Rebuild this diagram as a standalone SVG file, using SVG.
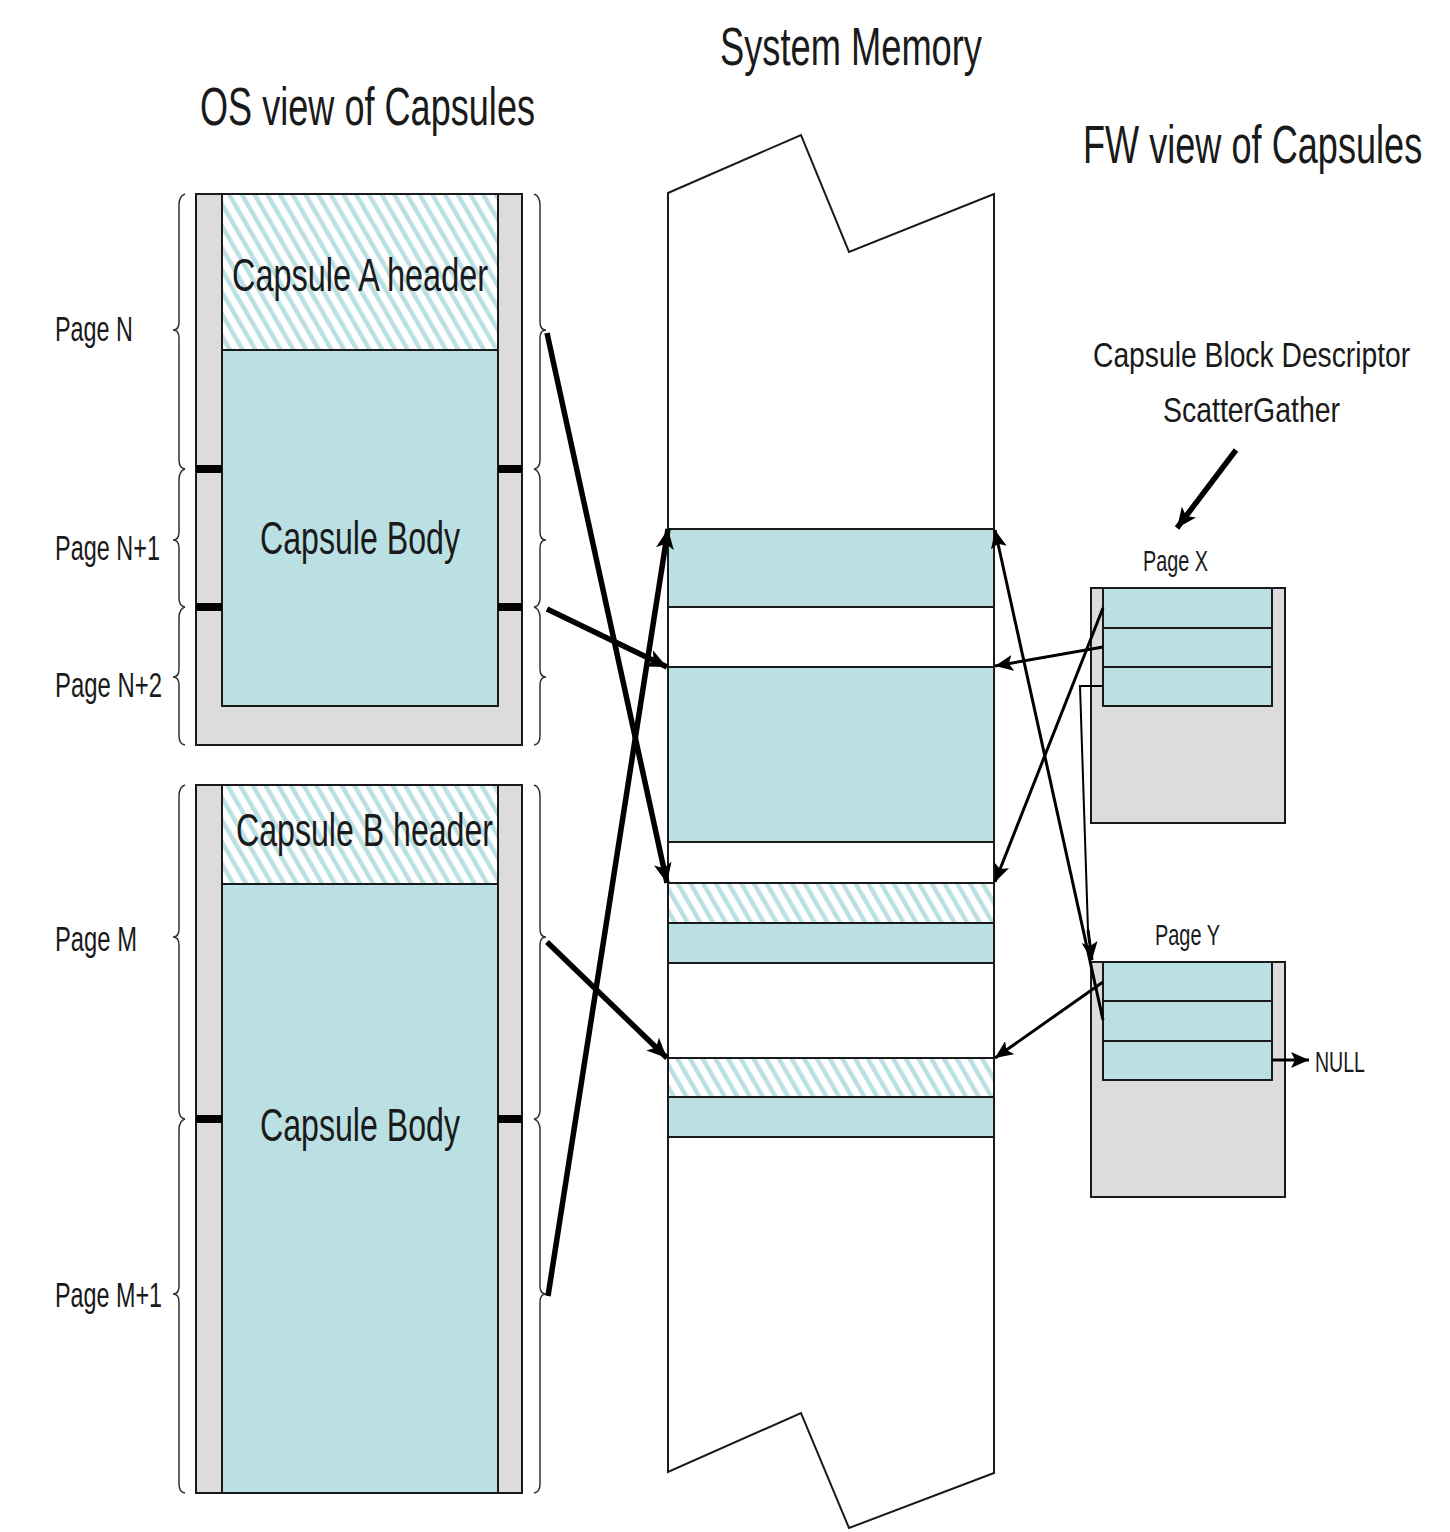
<svg xmlns="http://www.w3.org/2000/svg" width="1450" height="1532" viewBox="0 0 1450 1532">
<style>
text{font-family:"Liberation Sans Narrow","Liberation Sans",Arial,sans-serif;fill:#1a1a1a}
.title{font-size:54px}
.big{font-size:46px}
.lbl{font-size:35px}
.sm{font-size:30px}
.gray{fill:#dcdcdc;stroke:#1a1a1a;stroke-width:2}
.teal{fill:#bbe0e3;stroke:#1a1a1a;stroke-width:2}
.hatch{fill:url(#hatch);stroke:#1a1a1a;stroke-width:2}
.tick{fill:#000}
.brace{fill:none;stroke:#333;stroke-width:1.5}
.mem{fill:#fff;stroke:#1a1a1a;stroke-width:2}
.thick{fill:none;stroke:#000;stroke-width:5.5;marker-end:url(#ah)}
.thin{fill:none;stroke:#000;stroke-width:3;marker-end:url(#ah2)}
.plain{fill:none;stroke:#000;stroke-width:2}
</style>
<defs>
<pattern id="hatch" patternUnits="userSpaceOnUse" width="11" height="11" patternTransform="rotate(-30)">
<rect width="11" height="11" fill="#fff"/>
<rect x="0" y="0" width="4.5" height="11" fill="#bbe0e3"/>
</pattern>
<marker id="ah" markerUnits="userSpaceOnUse" markerWidth="22" markerHeight="18" refX="20" refY="9" orient="auto">
<path d="M0,0 L20,9 L0,18 L5,9 Z" fill="#000"/>
</marker>
<marker id="ah2" markerUnits="userSpaceOnUse" markerWidth="20" markerHeight="16" refX="18" refY="8" orient="auto">
<path d="M0,0 L18,8 L0,16 L4,8 Z" fill="#000"/>
</marker>
</defs>

<g id="titles">
<text class="title" x="200" y="125" textLength="335" lengthAdjust="spacingAndGlyphs">OS view of Capsules</text>
<text class="title" x="720" y="65" textLength="262" lengthAdjust="spacingAndGlyphs">System Memory</text>
<text class="title" transform="translate(1083,163) scale(0.66,1)" x="0" y="0" textLength="514" lengthAdjust="spacingAndGlyphs">FW view of Capsules</text>
</g>

<g id="capsuleA">
<rect class="gray" x="196" y="194" width="326" height="551"/>
<rect class="hatch" x="222" y="194" width="276" height="156"/>
<rect class="teal" x="222" y="350" width="276" height="356"/>
<rect class="tick" x="196" y="465" width="26" height="8"/>
<rect class="tick" x="498" y="465" width="24" height="8"/>
<rect class="tick" x="196" y="603" width="26" height="8"/>
<rect class="tick" x="498" y="603" width="24" height="8"/>
<text class="big" x="232" y="291" textLength="256" lengthAdjust="spacingAndGlyphs">Capsule A header</text>
<text class="big" x="260" y="554" textLength="200" lengthAdjust="spacingAndGlyphs">Capsule Body</text>
</g>

<g id="capsuleB">
<rect class="gray" x="196" y="785" width="326" height="708"/>
<rect class="hatch" x="222" y="785" width="276" height="99"/>
<rect class="teal" x="222" y="884" width="276" height="609"/>
<rect class="tick" x="196" y="1115" width="26" height="8"/>
<rect class="tick" x="498" y="1115" width="24" height="8"/>
<text class="big" x="236" y="846" textLength="257" lengthAdjust="spacingAndGlyphs">Capsule B header</text>
<text class="big" x="260" y="1141" textLength="200" lengthAdjust="spacingAndGlyphs">Capsule Body</text>
</g>

<g id="braces">
<path class="brace" d="M185,194 Q179,196 179,205 L179,322 Q179,330 173,330 Q179,330 179,338 L179,460 Q179,468 185,469"/>
<path class="brace" d="M185,469 Q179,471 179,480 L179,532 Q179,540 173,540 Q179,540 179,548 L179,598 Q179,606 185,607"/>
<path class="brace" d="M185,607 Q179,609 179,618 L179,669 Q179,677 173,677 Q179,677 179,685 L179,736 Q179,744 185,745"/>
<path class="brace" d="M185,785 Q179,787 179,796 L179,929 Q179,937 173,937 Q179,937 179,945 L179,1110 Q179,1118 185,1119"/>
<path class="brace" d="M185,1119 Q179,1121 179,1130 L179,1286 Q179,1294 173,1294 Q179,1294 179,1302 L179,1484 Q179,1492 185,1493"/>
<path class="brace" d="M534,194 Q540,196 540,205 L540,322 Q540,330 546,330 Q540,330 540,338 L540,460 Q540,468 534,469"/>
<path class="brace" d="M534,469 Q540,471 540,480 L540,532 Q540,540 546,540 Q540,540 540,548 L540,598 Q540,606 534,607"/>
<path class="brace" d="M534,607 Q540,609 540,618 L540,669 Q540,677 546,677 Q540,677 540,685 L540,736 Q540,744 534,745"/>
<path class="brace" d="M534,785 Q540,787 540,796 L540,929 Q540,937 546,937 Q540,937 540,945 L540,1110 Q540,1118 534,1119"/>
<path class="brace" d="M534,1119 Q540,1121 540,1130 L540,1286 Q540,1294 546,1294 Q540,1294 540,1302 L540,1484 Q540,1492 534,1493"/>
</g>

<g id="pageLabels">
<text class="lbl" x="55" y="341" textLength="78" lengthAdjust="spacingAndGlyphs">Page N</text>
<text class="lbl" x="55" y="560" textLength="105" lengthAdjust="spacingAndGlyphs">Page N+1</text>
<text class="lbl" x="55" y="697" textLength="107" lengthAdjust="spacingAndGlyphs">Page N+2</text>
<text class="lbl" x="55" y="951" textLength="82" lengthAdjust="spacingAndGlyphs">Page M</text>
<text class="lbl" x="55" y="1307" textLength="107" lengthAdjust="spacingAndGlyphs">Page M+1</text>
</g>

<g id="systemMemory">
<path class="mem" d="M668,193 L801,135 L849,252 L994,194 L994,1473 L849,1528 L801,1413 L668,1472 Z"/>
<rect class="teal" x="668" y="529" width="326" height="78"/>
<rect class="teal" x="668" y="667" width="326" height="175"/>
<rect class="hatch" x="668" y="883" width="326" height="40"/>
<rect class="teal" x="668" y="923" width="326" height="40"/>
<rect class="hatch" x="668" y="1058" width="326" height="39"/>
<rect class="teal" x="668" y="1097" width="326" height="40"/>
</g>

<g id="descriptorLabel">
<text class="lbl" transform="translate(1093,367) scale(0.75,1)" x="0" y="0" textLength="423" lengthAdjust="spacingAndGlyphs">Capsule Block Descriptor</text>
<text class="lbl" x="1163" y="422" textLength="177" lengthAdjust="spacingAndGlyphs">ScatterGather</text>
</g>

<g id="pageX">
<rect class="gray" x="1091" y="588" width="194" height="235"/>
<rect class="teal" x="1103" y="588" width="169" height="40"/>
<rect class="teal" x="1103" y="628" width="169" height="39"/>
<rect class="teal" x="1103" y="667" width="169" height="39"/>
<text class="sm" x="1143" y="571" textLength="65" lengthAdjust="spacingAndGlyphs">Page X</text>
</g>

<g id="pageY">
<rect class="gray" x="1091" y="962" width="194" height="235"/>
<rect class="teal" x="1103" y="962" width="169" height="39"/>
<rect class="teal" x="1103" y="1001" width="169" height="40"/>
<rect class="teal" x="1103" y="1041" width="169" height="39"/>
<text class="sm" x="1155" y="945" textLength="65" lengthAdjust="spacingAndGlyphs">Page Y</text>
<text class="sm" x="1315" y="1072" textLength="50" lengthAdjust="spacingAndGlyphs">NULL</text>
</g>

<g id="connectors">
<line class="thick" x1="547" y1="333" x2="667" y2="883"/>
<line class="thick" x1="547" y1="609" x2="667" y2="667"/>
<line class="thick" x1="547" y1="942" x2="667" y2="1058"/>
<line class="thick" x1="548" y1="1296" x2="668" y2="529"/>
<line class="thin" x1="1103" y1="608" x2="995" y2="882"/>
<line class="thin" x1="1103" y1="647" x2="995" y2="666"/>
<line class="thin" x1="1103" y1="1020" x2="995" y2="530"/>
<line class="thin" x1="1103" y1="982" x2="995" y2="1058"/>
<path class="plain" d="M1103,686 L1080,686 L1088,930"/>
<line class="thin" x1="1088" y1="930" x2="1092" y2="960"/>
<line class="thin" x1="1272" y1="1060" x2="1309" y2="1060"/>
<line class="thick" x1="1236" y1="450" x2="1177" y2="528"/>
</g>
</svg>
